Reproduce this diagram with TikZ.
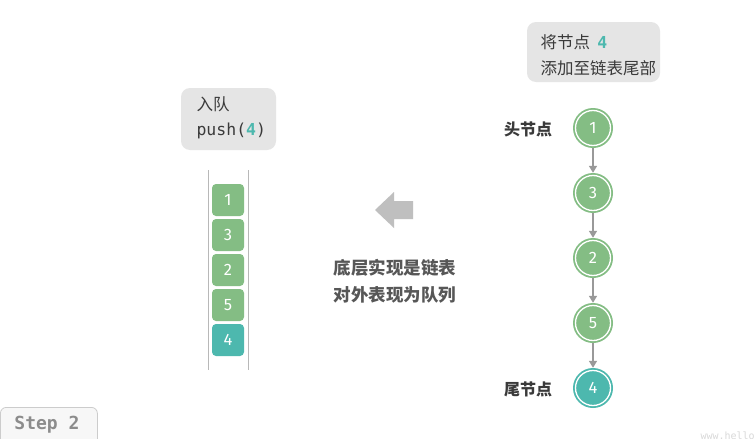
\documentclass[tikz,border=0pt]{standalone}
\usepackage{fontspec}
\setmainfont{Noto Sans CJK SC}
\setmonofont{DejaVu Sans Mono}
\newfontfamily\digitfont{Fira Sans}
\usetikzlibrary{arrows.meta}
\definecolor{nodegreen}{HTML}{84BD84}
\definecolor{nodeteal}{HTML}{4DB8AE}
\definecolor{boxgray}{HTML}{E5E5E5}
\definecolor{txtdark}{HTML}{3A3A3A}
\definecolor{arrowgray}{HTML}{BFBFBF}
\definecolor{linegray}{HTML}{999999}
\begin{document}
\begin{tikzpicture}[x=1pt,y=-1pt,
  notebox/.style={fill=boxgray,rounded corners=9pt,draw=none},
  qcell/.style={minimum width=32pt,minimum height=32pt,rounded corners=4pt,fill=nodegreen,text=white,font=\digitfont\fontsize{16.5}{16.5}\selectfont,inner sep=0pt},
  lnode/.style={circle,minimum size=40pt,inner sep=0pt,fill=nodegreen,text=white,font=\digitfont\fontsize{16.5}{16.5}\selectfont,
    path picture={\draw[white,line width=1.3pt] (path picture bounding box.center) circle (17.5pt);}},
  link/.style={draw=linegray,line width=1.4pt,-{Triangle[length=7pt,width=8pt]}},
  label/.style={font=\fontsize{16}{16}\selectfont\bfseries,text=txtdark},
  body/.style={font=\fontsize{16.5}{16.5}\selectfont,text=txtdark}
]
\useasboundingbox (0,0) rectangle (755,439);
\fill[white] (0,0) rectangle (755,439);

% enqueue note
\node[notebox,minimum width=95pt,minimum height=62pt] (enq) at (228.5,119) {};
\node[body,anchor=west] (enqa) at (193,104) {入队};
\node[body,anchor=west] (enqb) at (193,131) {\ttfamily push(\textcolor{nodeteal}{\bfseries 4})};

% queue walls
\draw[linegray!70,line width=1pt] (208,170) coordinate (wl1) -- (208,370) coordinate (wl2);
\draw[linegray!70,line width=1pt] (248,170) coordinate (wr1) -- (248,370) coordinate (wr2);

% queue cells
\node[qcell] (q1) at (228,200) {1};
\node[qcell] (q2) at (228,235) {3};
\node[qcell] (q3) at (228,270) {2};
\node[qcell] (q4) at (228,305) {5};
\node[qcell,fill=nodeteal] (q5) at (228,340) {4};

% direction arrow
\fill[arrowgray] (375,210) -- (394,192) -- (394,201) -- (413,201) -- (413,219) -- (394,219) -- (394,228) -- cycle;

% caption
\node[font=\fontsize{17.5}{17.5}\selectfont\bfseries,text=txtdark!85] (capa) at (395,268) {底层实现是链表};
\node[font=\fontsize{17.5}{17.5}\selectfont\bfseries,text=txtdark!85] (capb) at (395,295) {对外表现为队列};

% append note
\node[notebox,minimum width=133pt,minimum height=60pt] (app) at (593.5,52) {};
\node[body,anchor=west] (appa) at (537,42) {将节点\hspace{0.45em}\textcolor{nodeteal}{\ttfamily\bfseries 4}};
\node[body,anchor=west] (appb) at (537,68) {添加至链表尾部};

% linked list
\node[lnode] (n1) at (593,128) {1};
\node[lnode] (n2) at (593,193) {3};
\node[lnode] (n3) at (593,258) {2};
\node[lnode] (n4) at (593,323) {5};
\node[lnode,fill=nodeteal] (n5) at (593,388) {4};
\draw[link] (n1) -- (n2);
\draw[link] (n2) -- (n3);
\draw[link] (n3) -- (n4);
\draw[link] (n4) -- (n5);

\node[label] (head) at (528,129) {头节点};
\node[label] (tail) at (528,389) {尾节点};

% step badge
\node[draw=black!20,fill=black!3,rounded corners=6pt,minimum width=97pt,minimum height=40pt,anchor=north west,line width=0.8pt] (step) at (0,407) {};
\node[font=\ttfamily\bfseries\fontsize{18}{18}\selectfont,text=black!45] (steptxt) at (47,425) {Step 2};

% site mark
\node[anchor=west,text=black!15,font=\ttfamily\fontsize{10}{10}\selectfont] (mark) at (697,437) {www.hello-algo.com};
\end{tikzpicture}
\end{document}
